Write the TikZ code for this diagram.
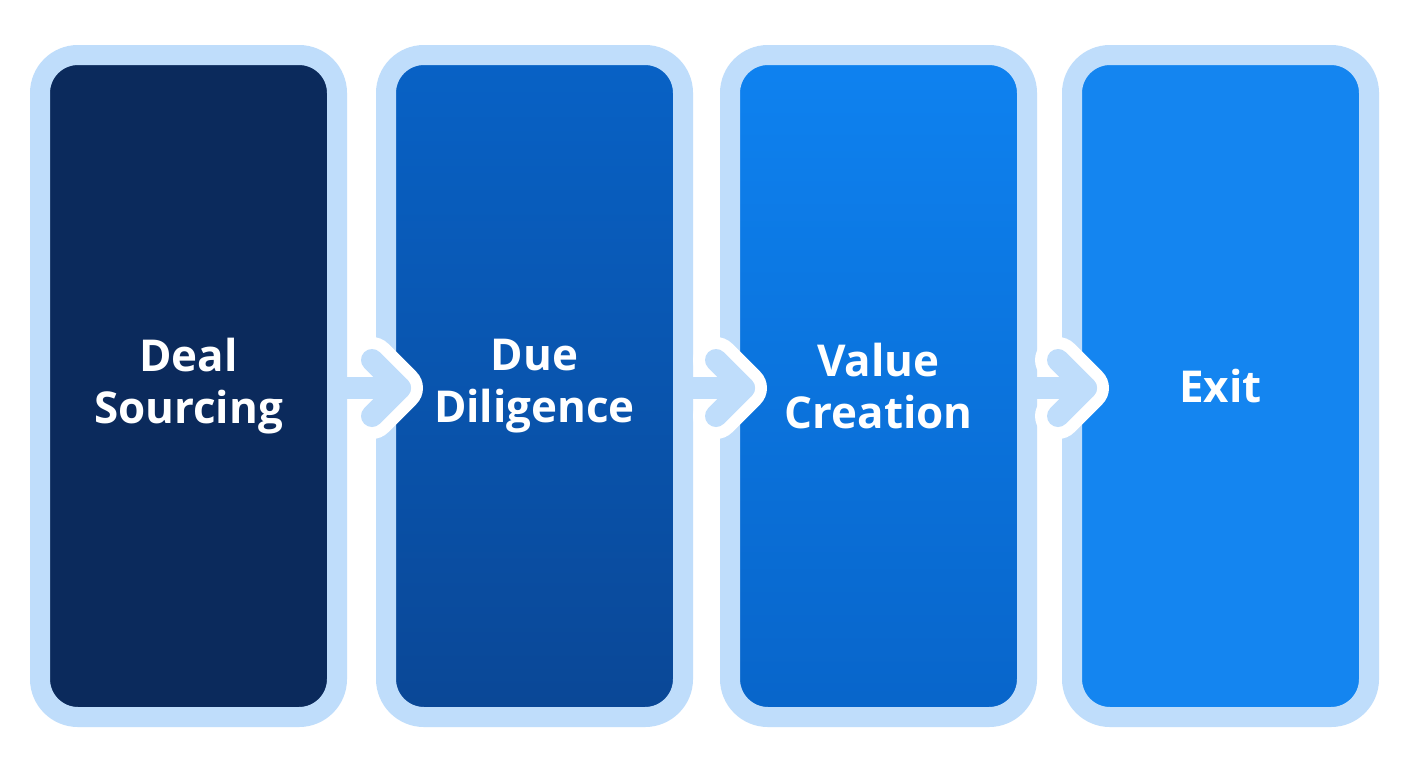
\documentclass[tikz,border=0pt]{standalone}
\usepackage{fontspec}
\setmainfont{Open Sans}
\usetikzlibrary{positioning,calc}
\definecolor{rim}{HTML}{BFDDFB}
\definecolor{navy}{HTML}{0B2A5C}
\definecolor{blueA}{HTML}{0862C6}
\definecolor{blueB}{HTML}{0A4796}
\definecolor{blueC}{HTML}{0E82F0}
\definecolor{blueD}{HTML}{0865CA}
\definecolor{blueE}{HTML}{1485F0}
\tikzset{
  stage/.style={draw=rim, line width=20\pxu, rounded corners=38\pxu,
    minimum width=297\pxu, minimum height=662\pxu, text=white,
    font=\fontsize{25}{30}\selectfont\bfseries, align=center},
  halo/.style={white, line width=46\pxu, line cap=round, line join=round},
  flow/.style={rim, line width=22\pxu, line cap=round, line join=round}
}
\newlength{\pxu}\setlength{\pxu}{0.02cm}
\begin{document}
\begin{tikzpicture}[x=0.02cm, y=-0.02cm]
\useasboundingbox[fill=white] (0,0) rectangle (1408,768);
\node[stage, fill=navy] (deal) at (188.5,386) {Deal\\Sourcing};
\node[stage, top color=blueA, bottom color=blueB, right=29\pxu of deal] (due) {Due\\Diligence};
\node[stage, top color=blueC, bottom color=blueD, right=27\pxu of due] (value) {Value\\Creation};
\node[stage, fill=blueE, right=25\pxu of value] (exit) {Exit};
% connectors
\foreach \a/\b in {deal/due, due/value, value/exit}{
  \coordinate (tip) at ($(\b.west)+(24,2)$);
  \draw[halo] ($(tip)+(-28,-28)$) -- (tip) -- ($(tip)+(-28,28)$);
  \draw[flow] ($(\a.east)+(0,2)$) -- (tip);
  \draw[flow] ($(tip)+(-28,-28)$) -- (tip) -- ($(tip)+(-28,28)$);
}
\end{tikzpicture}
\end{document}
